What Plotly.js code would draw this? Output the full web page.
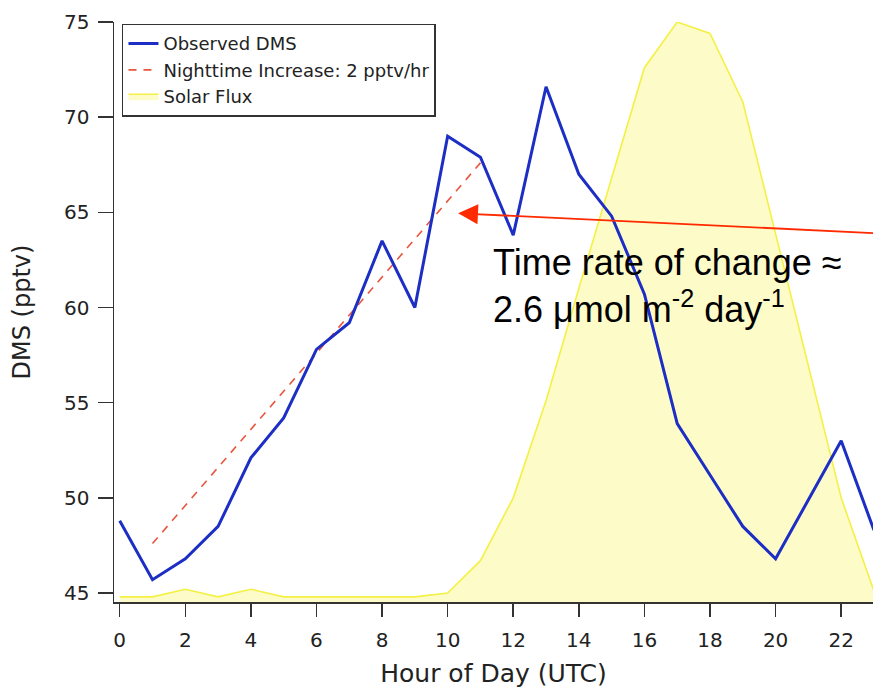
<!DOCTYPE html>
<html>
<head>
<meta charset="utf-8">
<script src="https://cdn.plot.ly/plotly-3.0.1.min.js"></script>
<style>html,body{margin:0;padding:0;background:#fff;}#chart{width:873px;height:688px;}</style>
</head>
<body>
<div id="chart"></div>
<script>
// ---- data ----
const hours = [0,1,2,3,4,5,6,7,8,9,10,11,12,13,14,15,16,17,18,19,20,21,22,23];
const observedDMS = [48.8,45.7,46.8,48.5,52.1,54.2,57.8,59.2,63.5,60.0,69.0,67.9,63.8,71.6,67.0,64.8,60.7,53.9,51.2,48.5,46.8,49.9,53.0,48.3];
const solarFlux = [44.8,44.8,45.2,44.8,45.2,44.8,44.8,44.8,44.8,44.8,45.0,46.7,50.0,55.1,61.0,66.8,72.6,75.0,74.4,70.8,63.9,57.0,50.0,45.1];
const nightHours = [1, 11];
const nightFit = [47.6, 67.6];
const xTicks = [0,2,4,6,8,10,12,14,16,18,20,22];
const yTicks = [45,50,55,60,65,70,75];
const seriesNames = ["Observed DMS", "Nighttime Increase: 2 pptv/hr", "Solar Flux"];
const xTitle = "Hour of Day (UTC)";
const yTitle = "DMS (pptv)";
const noteText = "Time rate of change \u2248<br>2.6 \u03bcmol m<sup>-2</sup> day<sup>-1</sup>";
// arrow: head and tail in data units
const arrowHead = [10.32, 64.95];
const arrowTail = [23.49, 63.87];
const noteAnchor = [11.33, 61.15];

const traces = [
  {x: hours, y: solarFlux, name: seriesNames[2], type: 'scatter', mode: 'lines',
   fill: 'tozeroy', fillcolor: '#fdfbc8',
   line: {color: '#f3f145', width: 1.6}, legendrank: 3},
  {x: nightHours, y: nightFit, name: seriesNames[1], type: 'scatter', mode: 'lines',
   line: {color: '#e8553f', width: 1.6, dash: '8px,7px'}, legendrank: 2},
  {x: hours, y: observedDMS, name: seriesNames[0], type: 'scatter', mode: 'lines',
   line: {color: '#1c2ec4', width: 3}, legendrank: 1}
];

const axisFont = {family: 'DejaVu Sans, sans-serif', size: 20, color: '#222'};
const layout = {
  width: 873, height: 688,
  margin: {l: 114, r: 0, t: 22, b: 86},
  paper_bgcolor: '#fff', plot_bgcolor: '#fff',
  showlegend: true,
  legend: {x: 0.0105, y: 0.997, xanchor: 'left', yanchor: 'top',
           bgcolor: '#fff', bordercolor: '#333', borderwidth: 1.5,
           font: {family: 'DejaVu Sans, sans-serif', size: 18, color: '#222'}},
  xaxis: {range: [-0.174, 22.97], tickvals: xTicks, ticktext: xTicks.map(String),
          ticks: 'outside', ticklen: 13, tickwidth: 1.5, tickcolor: '#333',
          ticklabelstandoff: 6,
          showline: true, linecolor: '#333', linewidth: 1.5,
          showgrid: false, zeroline: false, tickfont: axisFont, automargin: false,
          title: {text: xTitle, font: {family: 'DejaVu Sans, sans-serif', size: 25, color: '#222'}, standoff: 14}},
  yaxis: {range: [44.53, 75], tickvals: yTicks, ticktext: yTicks.map(String),
          ticks: 'outside', ticklen: 15, tickwidth: 1.5, tickcolor: '#333',
          ticklabelstandoff: 4,
          showline: true, linecolor: '#333', linewidth: 1.5,
          showgrid: false, zeroline: false, tickfont: axisFont, automargin: false,
          title: {text: yTitle, font: {family: 'DejaVu Sans, sans-serif', size: 24, color: '#222'}, standoff: 26}},
  annotations: [
    {x: arrowHead[0], y: arrowHead[1], xref: 'x', yref: 'y',
     ax: arrowTail[0], ay: arrowTail[1], axref: 'x', ayref: 'y',
     text: '', showarrow: true, arrowhead: 2, arrowsize: 2.2, arrowwidth: 1.8,
     arrowcolor: '#ff2a00'},
    {x: noteAnchor[0], y: noteAnchor[1], xref: 'x', yref: 'y', xanchor: 'left', yanchor: 'middle',
     align: 'left', text: noteText, showarrow: false,
     font: {family: 'Liberation Sans, Arial, sans-serif', size: 36, color: '#000'}}
  ]
};

Plotly.newPlot('chart', traces, layout, {displayModeBar: false, staticPlot: true});
</script>
</body>
</html>
